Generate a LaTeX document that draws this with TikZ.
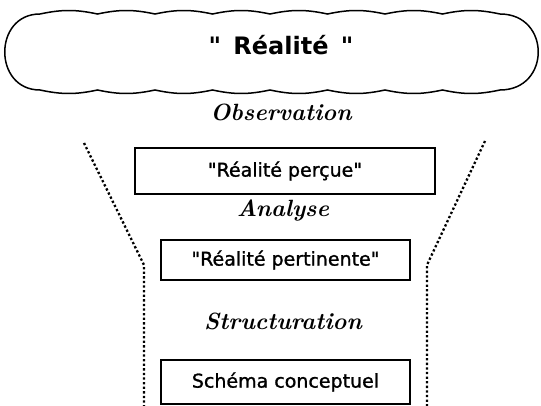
\documentclass[tikz,border=0pt]{standalone}
\usepackage{fontspec}
\setsansfont{DejaVu Sans}[Ligatures = TeXOff]
\newfontfamily\boxfont{DejaVu Sans}[Ligatures = TeXOff, FakeBold = 1.3]

\begin{document}
\begin{tikzpicture}[x = 1pt, y = -1pt, thick,
  levelbox/.style = {draw, line width = 1.8pt, rectangle, inner sep = 0pt,
    font = \boxfont\fontsize{19}{21}\selectfont},
  steplabel/.style = {font = \rmfamily\bfseries\itshape\fontsize{23.5}{26}\selectfont},
  funnel/.style = {line width = 2.3pt, dash pattern = on 2.3pt off 2.3pt}]
\useasboundingbox(0, 0) rectangle (541, 406);
% Cloud
\draw[line width = 1.5pt] (40, 14)
  \foreach \x in {97.5, 155, 212.5, 270, 327.5, 385, 442.5, 500} {to[bend left = 12] (\x, 14)}
  .. controls (551, 14) and (551, 90) .. (500, 90)
  \foreach \x in {442.5, 385, 327.5, 270, 212.5, 155, 97.5, 40} {to[bend left = 12] (\x, 90)}
  .. controls (-7, 90) and (-7, 14) .. (40, 14);
\node[font = \sffamily\bfseries\fontsize{24}{26}\selectfont] (reality) at (281, 45) {"\,\ Réalité\ \,"};
% Steps
\node[steplabel] (observation) at (281, 112) {Observation};
\node[levelbox, minimum width = 300, minimum height = 46] (perceived) at (285, 171) {"Réalité perçue"};
\node[steplabel] (analysis) at (283, 211) {Analyse};
\node[levelbox, minimum width = 249, minimum height = 40] (relevant) at (285.5, 260) {"Réalité pertinente"};
\node[steplabel] (structuring) at (283, 321) {Structuration};
\node[levelbox, minimum width = 249, minimum height = 44] (schema) at (285.5, 382) {Schéma conceptuel};
% Funnel
\draw[funnel](84, 143) -- (144, 265) -- (144, 406);
\draw[funnel](485, 141) -- (427, 265) -- (427, 406);
\end{tikzpicture}
\end{document}
